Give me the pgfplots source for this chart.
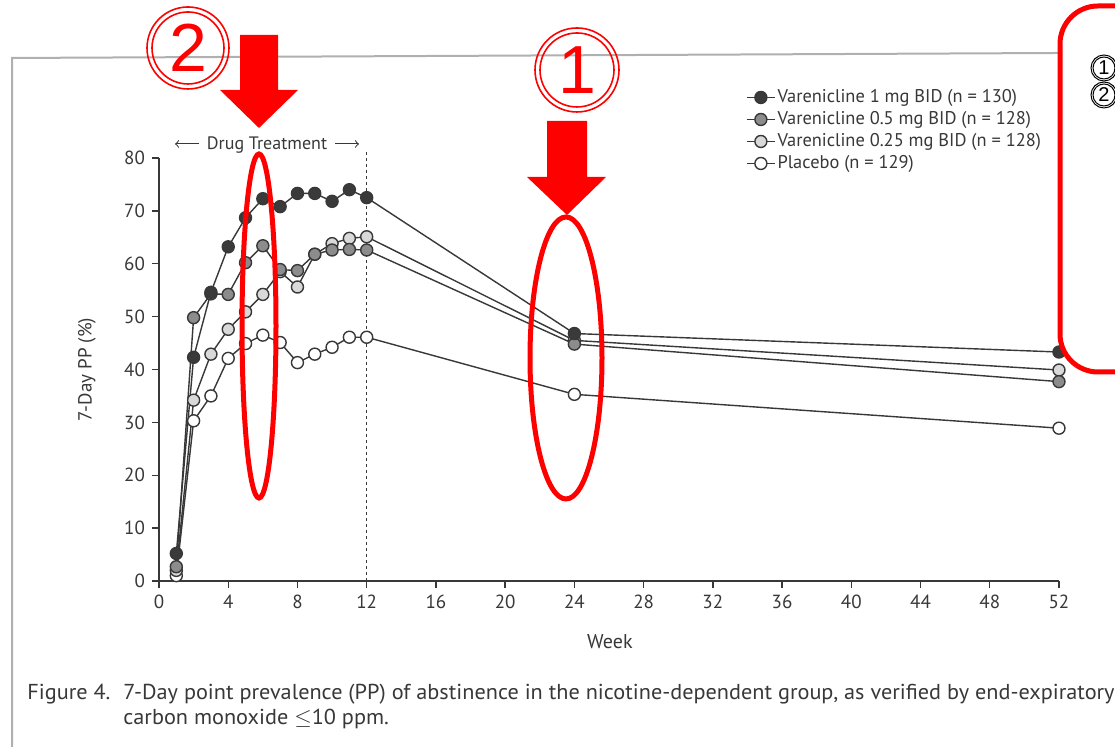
\documentclass[border=0pt]{standalone}
\usepackage{pgfplots}
\pgfplotsset{compat=1.18}
\usepackage{fontspec}
\setmainfont{PT Sans}
\newfontfamily\numfont{Liberation Sans}

\definecolor{ink}{HTML}{383838}
\definecolor{markA}{HTML}{3A3A3A}
\definecolor{markB}{HTML}{8C8C8C}
\definecolor{markC}{HTML}{D9D9D9}
\definecolor{paper}{HTML}{B0B0B0}
\definecolor{hl}{HTML}{FF0000}

\begin{document}
\begin{tikzpicture}
\useasboundingbox (0pt,0pt) rectangle (557.5pt,373.5pt);
\fill[white] (0pt,0pt) rectangle (557.5pt,373.5pt);

\begin{axis}[
  at={(79.5pt,83pt)}, anchor=south west,
  scale only axis, width=450pt, height=211.5pt,
  xmin=0, xmax=52, ymin=0, ymax=80,
  xtick={0,4,...,52}, ytick={0,10,...,80},
  axis lines=left, axis line style={-, ink, line width=0.8pt},
  tick align=outside, major tick length=3.5pt,
  tick style={ink, line width=0.7pt},
  ticklabel style={font=\fontsize{9.5}{11}\selectfont, text=ink},
  /pgf/number format/assume math mode=true,
  xlabel={Week}, ylabel={7-Day PP (\%)},
  xlabel style={at={(axis description cs:0.501,-0.144)}, anchor=center,
    font=\fontsize{10}{12}\selectfont, text=ink},
  ylabel style={at={(axis description cs:-0.08,0.5)}, anchor=center,
    font=\fontsize{9.5}{11}\selectfont, text=ink},
  clip=false,
  reverse legend,
  legend style={at={(rel axis cs:0.652,1.170)}, anchor=north west,
    draw=none, fill=none, inner sep=0pt, row sep=0pt,
    font=\fontsize{9.2}{10}\selectfont, text=ink,
    nodes={inner sep=1pt, text height=7pt, text depth=2pt},
    cells={anchor=west}},
  legend image code/.code={\draw[mark repeat=2,mark phase=2]
    plot coordinates {(0pt,0pt)(7pt,0pt)(14pt,0pt)};},
  every axis plot/.append style={ink, line width=0.7pt, mark=*, mark size=3pt},
]

% Placebo (n = 129)
\addplot[mark options={fill=white, draw=ink}] coordinates {
  (1,1.0)(2,30.3)(3,35.0)(4,42.1)(5,44.9)(6,46.5)(7,45.1)(8,41.3)
  (9,42.9)(10,44.2)(11,46.1)(12,46.1)(24,35.3)(52,28.9)};
\addlegendentry{Placebo (n = 129)}

% Varenicline 0.25 mg BID
\addplot[mark options={fill=markC, draw=ink}] coordinates {
  (1,2.0)(2,34.2)(3,42.9)(4,47.6)(5,50.9)(6,54.2)(7,58.5)(8,55.6)
  (9,61.8)(10,63.8)(11,64.8)(12,65.1)(24,45.5)(52,39.9)};
\addlegendentry{Varenicline 0.25 mg BID (n = 128)}

% Varenicline 0.5 mg BID
\addplot[mark options={fill=markB, draw=ink}] coordinates {
  (1,2.7)(2,49.8)(3,54.3)(4,54.2)(5,60.2)(6,63.4)(7,58.9)(8,58.7)
  (9,61.8)(10,62.6)(11,62.7)(12,62.6)(24,44.8)(52,37.7)};
\addlegendentry{Varenicline 0.5 mg BID (n = 128)}

% Varenicline 1 mg BID
\addplot[mark options={fill=markA, draw=ink}] coordinates {
  (1,5.2)(2,42.3)(3,54.6)(4,63.2)(5,68.7)(6,72.3)(7,70.8)(8,73.3)
  (9,73.3)(10,71.8)(11,74.0)(12,72.5)(24,46.8)(52,43.3)};
\addlegendentry{Varenicline 1 mg BID (n = 130)}

% end of drug treatment
\draw[ink, line width=0.6pt, dash pattern=on 1.5pt off 1.5pt]
  (axis cs:12,0) -- (axis cs:12,81.5);
\end{axis}

\begin{scope}[x=0.5pt, y=0.5pt]
% scanned page edge
\draw[paper, line width=1pt] (12,0) -- (12,689) -- (1058,694);

% Drug Treatment bracket
\node[ink, inner sep=0pt, font=\fontsize{9}{10}\selectfont] at (267,602) {Drug Treatment};
\draw[ink, line width=0.5pt, ->] (199,603) -- (175,603);
\draw[ink, line width=0.5pt, ->] (335,603) -- (359,603);

% caption
\begin{scope}[every node/.style={anchor=base west, inner sep=0pt, text=ink,
    font=\fontsize{10.8}{11}\selectfont}]
  \node at (27,47) {\scalebox{1.03}[1]{Figure 4.}};
  \node at (123,47) {\scalebox{1.03}[1]{7-Day point prevalence (PP) of abstinence in the nicotine-dependent group, as verified by end-expiratory}};
  \node at (123,22) {\scalebox{1.03}[1]{carbon monoxide $\le$10 ppm.}};
\end{scope}

% red highlights
\draw[hl, line width=0.8pt] (188,699) circle[radius=41];
\draw[hl, line width=0.8pt] (188,699) circle[radius=36];
\node[hl, font=\numfont\fontsize{34}{34}\selectfont] at (188,699) {2};
\fill[hl] (240,712) -- (278,712) -- (278,657) -- (298,657) -- (259,619)
  -- (220,657) -- (240,657) -- cycle;

\draw[hl, line width=0.8pt] (577,677) circle[radius=42];
\draw[hl, line width=0.8pt] (577,677) circle[radius=37];
\node[hl, font=\numfont\fontsize{34}{34}\selectfont] at (577,677) {1};
\fill[hl] (547,626) -- (587,626) -- (587,570) -- (606,570) -- (567,532)
  -- (527,570) -- (547,570) -- cycle;

\draw[hl, line width=2.5pt] (259,421) ellipse[x radius=17, y radius=172];
\draw[hl, line width=2.5pt] (566,389) ellipse[x radius=36, y radius=141];

% side box
\draw[hl, line width=2.5pt, rounded corners=19pt] (1060,375) rectangle (1260,741);
\draw[black, line width=0.5pt] (1104,679) circle[radius=13];
\draw[black, line width=0.5pt] (1104,679) circle[radius=11];
\node[font=\numfont\fontsize{10}{10}\selectfont] at (1104,679) {1};
\draw[black, line width=0.5pt] (1104,652) circle[radius=13];
\draw[black, line width=0.5pt] (1104,652) circle[radius=11];
\node[font=\numfont\fontsize{10}{10}\selectfont] at (1104,652) {2};
\end{scope}
\end{tikzpicture}
\end{document}
